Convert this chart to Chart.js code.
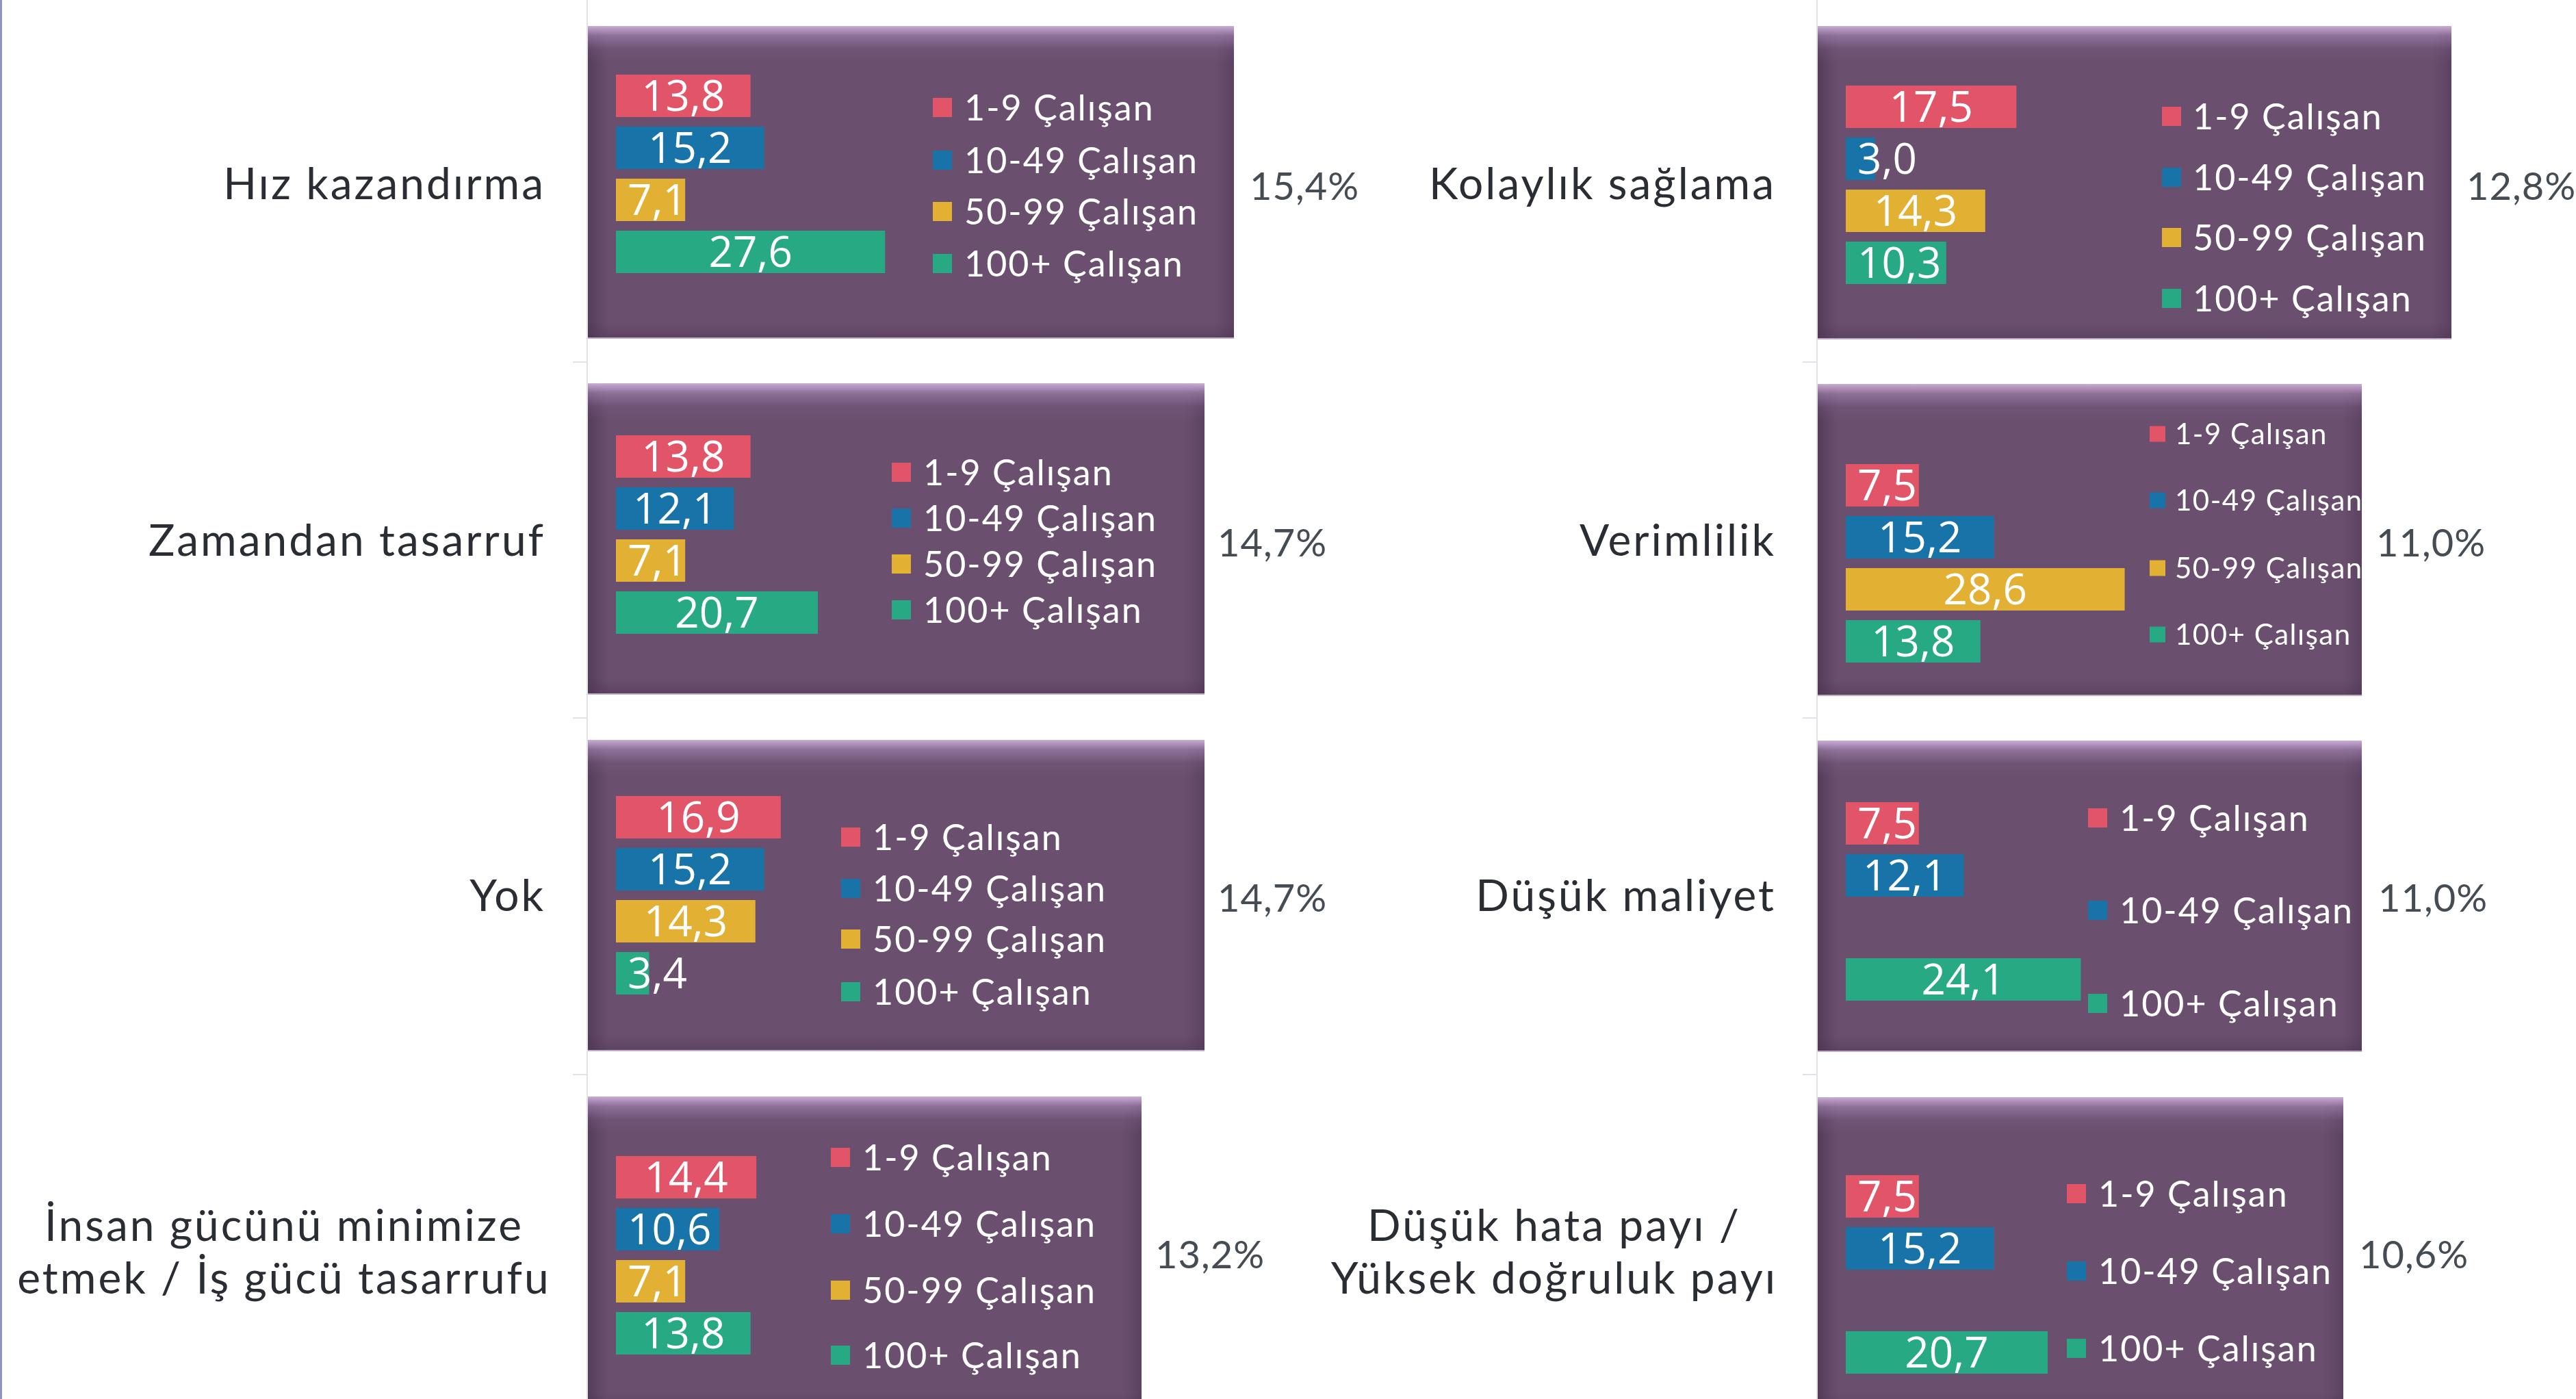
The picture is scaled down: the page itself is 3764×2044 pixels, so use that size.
<!DOCTYPE html>
<html lang="tr">
<head>
<meta charset="utf-8">
<title>Çalışan sayısına göre faydalar</title>
<script src="https://cdn.jsdelivr.net/npm/chart.js@4.4.1/dist/chart.umd.min.js"></script>
<style>
    html, body {
        margin: 0;
        padding: 0;
        background: #ffffff;
    }
    #page {
        position: relative;
        width: 3764px;
        height: 2044px;
        overflow: hidden;
        background: #ffffff;
    }
    .edge {
        position: absolute;
        left: 0;
        top: 0;
        width: 3px;
        height: 2044px;
        background: #8f93c4;
    }
    .axis {
        position: absolute;
        top: 0;
        width: 2px;
        height: 2044px;
        background: #e4e1e8;
    }
    .tick {
        position: absolute;
        width: 20px;
        height: 2px;
        background: #e4e1e8;
    }
    .box {
        position: absolute;
        background-color: #6a4f6f;
        background-image:
            linear-gradient(180deg, rgba(196, 166, 210, 0.95) 0px, rgba(168, 136, 180, 0.6) 12px, rgba(130, 100, 140, 0.25) 32px, rgba(106, 79, 111, 0) 52px),
            linear-gradient(0deg, rgba(70, 45, 75, 0.35) 0px, rgba(70, 45, 75, 0) 22px),
            linear-gradient(90deg, rgba(60, 36, 66, 0.45) 0px, rgba(60, 36, 66, 0.12) 20px, rgba(60, 36, 66, 0) 30px),
            linear-gradient(270deg, rgba(60, 36, 66, 0.3) 0px, rgba(60, 36, 66, 0.08) 20px, rgba(60, 36, 66, 0) 30px);
        border-top: 2px solid #c3aacb;
        border-bottom: 2px solid #bfaec6;
        box-sizing: border-box;
    }
    .box canvas {
        position: absolute;
        left: 0;
        top: 0;
    }
    .cat {
        position: absolute;
        font-family: Lato, "Open Sans", sans-serif;
        font-size: 64px;
        line-height: 77px;
        color: #2a2d33;
        letter-spacing: 3px;
        white-space: nowrap;
    }
    .pct {
        position: absolute;
        font-family: Lato, "Open Sans", sans-serif;
        font-weight: 400;
        font-size: 56px;
        line-height: 70px;
        color: #464c54;
        letter-spacing: 1px;
        white-space: nowrap;
    }
</style>
</head>
<body>
<div id="page"></div>

<script>
// Benefit categories, in reading order: left column top to bottom, then right column
const categories = [
    ['Hız kazandırma'],
    ['Zamandan tasarruf'],
    ['Yok'],
    ['İnsan gücünü minimize', 'etmek / İş gücü tasarrufu'],
    ['Kolaylık sağlama'],
    ['Verimlilik'],
    ['Düşük maliyet'],
    ['Düşük hata payı /', 'Yüksek doğruluk payı']
];

// Overall share of each benefit (%)
const totals = [15.4, 14.7, 14.7, 13.2, 12.8, 11.0, 11.0, 10.6];

// Company size groups
const seriesLabels = ['1-9 Çalışan', '10-49 Çalışan', '50-99 Çalışan', '100+ Çalışan'];
const seriesColors = ['#e25468', '#1874a8', '#e2b033', '#27aa83'];

// Values per size group (null = no answer in that group)
const emp1to9 = [13.8, 13.8, 16.9, 14.4, 17.5, 7.5, 7.5, 7.5];
const emp10to49 = [15.2, 12.1, 15.2, 10.6, 3.0, 15.2, 12.1, 15.2];
const emp50to99 = [7.1, 7.1, 14.3, 7.1, 14.3, 28.6, null, null];
const emp100plus = [27.6, 20.7, 3.4, 13.8, 10.3, 13.8, 24.1, 20.7];

const X_MAX = 30;          // value range shown on every panel
const PX_PER_UNIT = 14.25; // same bar scale in all panels
const BAND = 76;           // row height of one bar
const BAR_H = 62;

// Panel placement (page pixels) and legend layout, one entry per category
const panels = [
    { x: 859,  y: 38,   w: 944, h: 457, barTop: 71,  col: 'L', legX: 504, legY: [117, 194, 269, 345], legSize: 52, legBox: 28, legGap: 18, pctX: 1826, pctY: 271, catY: 266 },
    { x: 859,  y: 560,  w: 901, h: 455, barTop: 76,  col: 'L', legX: 444, legY: [128, 195, 262, 329], legSize: 52, legBox: 28, legGap: 18, pctX: 1779, pctY: 792, catY: 787 },
    { x: 859,  y: 1081, w: 901, h: 455, barTop: 82,  col: 'L', legX: 370, legY: [140, 215, 289, 366], legSize: 52, legBox: 28, legGap: 18, pctX: 1779, pctY: 1311, catY: 1306 },
    { x: 859,  y: 1602, w: 809, h: 457, barTop: 87,  col: 'L', legX: 355, legY: [87, 184, 281, 376],  legSize: 52, legBox: 28, legGap: 18, pctX: 1688, pctY: 1832, catY: 1826 },
    { x: 2656, y: 38,   w: 926, h: 458, barTop: 87,  col: 'R', legX: 503, legY: [130, 219, 307, 396], legSize: 52, legBox: 28, legGap: 17, pctX: 3604, pctY: 271, catY: 266 },
    { x: 2656, y: 561,  w: 795, h: 456, barTop: 117, col: 'R', legX: 485, legY: [71, 168, 267, 364],  legSize: 42, legBox: 23, legGap: 14, pctX: 3472, pctY: 792, catY: 787 },
    { x: 2656, y: 1082, w: 795, h: 455, barTop: 90,  col: 'R', legX: 395, legY: [111, 246, 382],      legSize: 52, legBox: 28, legGap: 18, pctX: 3475, pctY: 1311, catY: 1306 },
    { x: 2656, y: 1603, w: 768, h: 457, barTop: 114, col: 'R', legX: 364, legY: [139, 252, 365],      legSize: 52, legBox: 28, legGap: 18, pctX: 3447, pctY: 1832, catY: 1826 }
];

const fmt = v => v.toFixed(1).replace('.', ',');

/**
 * Draws value labels on the bars and the panel legend
 */
const panelDecor = {
    id: 'panelDecor',
    afterDatasetsDraw(chart, args, opts) {
        const ctx = chart.ctx;
        const ds = chart.data.datasets[0];
        const meta = chart.getDatasetMeta(0);
        ctx.save();

        // values inside bars
        ctx.font = `${opts.valueSize}px "Open Sans", sans-serif`;
        ctx.fillStyle = '#ffffff';
        ctx.textAlign = 'center';
        ctx.textBaseline = 'alphabetic';
        meta.data.forEach((bar, i) => {
            const v = ds.data[i];
            if (v === null) return;
            const txt = fmt(v);
            const w = ctx.measureText(txt).width;
            const left = Math.min(bar.base, bar.x);
            const cx = Math.max((bar.x + bar.base) / 2, left + 17 + w / 2);
            ctx.fillText(txt, cx, bar.y + opts.valueSize * 0.36);
        });

        // legend, only groups that have a value
        const leg = opts.legend;
        ctx.font = `${leg.size}px Lato, "Open Sans", sans-serif`;
        ctx.letterSpacing = (leg.size > 45 ? 2 : 1.5) + 'px';
        ctx.textAlign = 'left';
        let k = 0;
        chart.data.labels.forEach((label, i) => {
            if (ds.data[i] === null) return;
            const cy = leg.ys[k++];
            ctx.fillStyle = ds.backgroundColor[i];
            ctx.fillRect(leg.x, cy - leg.box / 2, leg.box, leg.box);
            ctx.fillStyle = '#ffffff';
            ctx.fillText(label, leg.x + leg.box + leg.gap, cy + leg.size * 0.36);
        });
        ctx.restore();
    }
};

const page = document.getElementById('page');

function addDiv(cls, css, html) {
    const d = document.createElement('div');
    d.className = cls;
    Object.assign(d.style, css);
    if (html !== undefined) d.innerHTML = html;
    page.appendChild(d);
    return d;
}

// edge line and axis lines with category ticks
addDiv('edge', {});
[857, 2654].forEach(ax => {
    addDiv('axis', { left: ax + 'px' });
    [528, 1048, 1569].forEach(ty => addDiv('tick', { left: (ax - 20) + 'px', top: ty + 'px' }));
});

panels.forEach((p, idx) => {
    const values = [emp1to9[idx], emp10to49[idx], emp50to99[idx], emp100plus[idx]];

    // category label on the left of the panel
    const lines = categories[idx];
    const multi = lines.length > 1;
    const rightEdge = p.col === 'L' ? 797 : 2595;
    const catCss = {
        top: (p.catY - 38 - (multi ? 38 : 0)) + 'px',
        textAlign: multi ? 'center' : 'right'
    };
    if (multi) {
        const cx = p.col === 'L' ? 415 : 2271;
        catCss.left = (cx - 500) + 'px';
        catCss.width = '1000px';
    } else {
        catCss.left = (rightEdge - 1000) + 'px';
        catCss.width = '1000px';
    }
    addDiv('cat', catCss, lines.join('<br>'));

    // overall share on the right of the panel
    addDiv('pct', { left: p.pctX + 'px', top: (p.pctY - 35) + 'px' }, fmt(totals[idx]) + '%');

    // purple panel with its bar chart
    const box = addDiv('box', {
        left: p.x + 'px', top: p.y + 'px', width: p.w + 'px', height: p.h + 'px'
    });
    const canvas = document.createElement('canvas');
    canvas.width = p.w;
    canvas.height = p.h;
    box.appendChild(canvas);

    const padTop = p.barTop - (BAND - BAR_H) / 2 - 2;
    const plotW = X_MAX * PX_PER_UNIT;

    new Chart(canvas.getContext('2d'), {
        type: 'bar',
        data: {
            labels: seriesLabels,
            datasets: [{
                data: values,
                backgroundColor: seriesColors,
                borderWidth: 0,
                categoryPercentage: 1,
                barPercentage: BAR_H / BAND
            }]
        },
        options: {
            indexAxis: 'y',
            responsive: false,
            animation: false,
            devicePixelRatio: 1,
            layout: {
                padding: {
                    left: 41,
                    top: padTop,
                    right: p.w - 41 - plotW,
                    bottom: p.h - padTop - BAND * 4
                }
            },
            scales: {
                x: { min: 0, max: X_MAX, display: false },
                y: { display: false }
            },
            plugins: {
                legend: { display: false },
                tooltip: { enabled: false },
                panelDecor: {
                    valueSize: 62,
                    legend: { x: p.legX, ys: p.legY, size: p.legSize, box: p.legBox, gap: p.legGap }
                }
            }
        },
        plugins: [panelDecor]
    });
});
</script>
</body>
</html>
